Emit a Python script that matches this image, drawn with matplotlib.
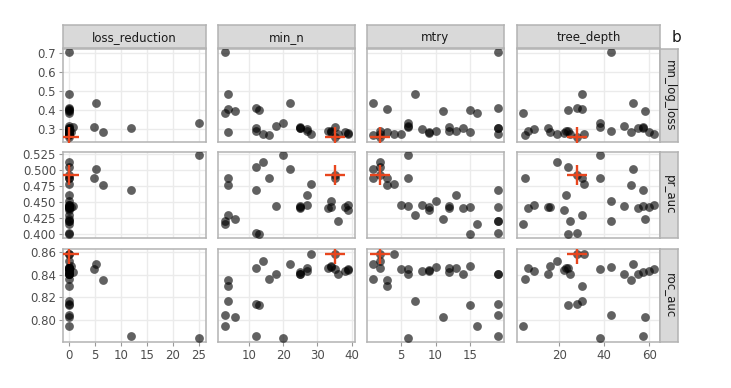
import matplotlib
matplotlib.use("Agg")
import matplotlib.pyplot as plt

# ---------------------------------------------------------------------------
# Tuning results: one entry per candidate model
# ---------------------------------------------------------------------------
loss_reduction = [0, 0, 0, 0, 0, 0.3, 0, 0, 0, 0, 0, 0, 0, 0, 0,
                  0, 0, 25, 4.87, 0, 0, 0, 6.54, 5.13, 0, 0.7, 11.9, 0, 0, 0]
min_n = [3, 16, 33, 27, 25, 34, 14, 39, 27, 12, 13, 36, 12, 35, 4,
         4, 28, 20, 35, 3, 34, 18, 4, 22, 25, 25, 12, 6, 38, 39]
mtry = [16, 1, 12, 8, 19, 15, 2, 9, 13, 2, 15, 19, 19, 2, 7,
        3, 4, 6, 6, 19, 10, 6, 3, 1, 14, 12, 19, 11, 9, 5]
tree_depth = [4, 5, 6, 9, 15, 16, 19, 22, 23, 24, 24, 25, 28, 28, 30,
              30, 31, 38, 38, 43, 43, 49, 52, 53, 55, 57, 57, 58, 60, 62]

mn_log_loss = [0.382, 0.268, 0.290, 0.300, 0.303, 0.283, 0.274, 0.280, 0.290, 0.290,
               0.400, 0.276, 0.409, 0.258, 0.483, 0.403, 0.274, 0.331, 0.313, 0.702,
               0.290, 0.318, 0.285, 0.435, 0.306, 0.310, 0.305, 0.396, 0.285, 0.274]
pr_auc = [0.415, 0.488, 0.441, 0.445, 0.442, 0.442, 0.513, 0.438, 0.461, 0.505,
          0.400, 0.421, 0.402, 0.492, 0.429, 0.487, 0.478, 0.523, 0.488, 0.420,
          0.451, 0.443, 0.477, 0.502, 0.440, 0.444, 0.469, 0.424, 0.442, 0.445]
roc_auc = [0.794, 0.836, 0.846, 0.8435, 0.841, 0.848, 0.8525, 0.8447, 0.8456, 0.8456,
           0.8126, 0.8408, 0.8135, 0.8588, 0.8168, 0.830, 0.8588, 0.7836, 0.8453, 0.804,
           0.8466, 0.8408, 0.835, 0.8497, 0.8408, 0.8425, 0.7858, 0.802, 0.8435, 0.845]

best_index = 13  # model flagged as best (red cross)

params = ["loss_reduction", "min_n", "mtry", "tree_depth"]
metrics = ["mn_log_loss", "pr_auc", "roc_auc"]
param_values = {"loss_reduction": loss_reduction, "min_n": min_n,
                "mtry": mtry, "tree_depth": tree_depth}
metric_values = {"mn_log_loss": mn_log_loss, "pr_auc": pr_auc, "roc_auc": roc_auc}

x_ticks = {"loss_reduction": [0, 5, 10, 15, 20, 25],
           "min_n": [10, 20, 30, 40],
           "mtry": [5, 10, 15],
           "tree_depth": [20, 40, 60]}
x_lims = {"loss_reduction": (-1.15, 26.35), "min_n": (1.02, 40.97),
          "mtry": (0.07, 19.9), "tree_depth": (1.33, 64.76)}
y_ticks = {"mn_log_loss": [0.3, 0.4, 0.5, 0.6, 0.7],
           "pr_auc": [0.400, 0.425, 0.450, 0.475, 0.500, 0.525],
           "roc_auc": [0.80, 0.82, 0.84, 0.86]}
y_fmt = {"mn_log_loss": "{:.1f}", "pr_auc": "{:.3f}", "roc_auc": "{:.2f}"}
y_lims = {"mn_log_loss": (0.232, 0.719), "pr_auc": (0.3937, 0.528),
          "roc_auc": (0.780, 0.863)}

# ---------------------------------------------------------------------------
# Layout (pixel boxes of the reference, 731 x 388)
# ---------------------------------------------------------------------------
W, H = 731, 388
col_px = [(63, 206), (218, 355), (367, 504), (517, 660)]
row_px = [(49, 142), (152, 238), (249, 342)]
strip_top = (25, 48)
strip_right = (660, 678)

border = "#b3b3b3"
strip_fill = "#d9d9d9"
grid_col = "#ebebeb"
text_col = "#4d4d4d"
cross_col = "#e8461e"
fs = 8.5

fig = plt.figure(figsize=(W / 100, H / 100), dpi=100)


def box(x0, x1, y0, y1):
    return [x0 / W, 1 - y1 / H, (x1 - x0) / W, (y1 - y0) / H]


for r, metric in enumerate(metrics):
    y0, y1 = row_px[r]
    for c, param in enumerate(params):
        x0, x1 = col_px[c]
        ax = fig.add_axes(box(x0, x1, y0, y1))
        ax.set_facecolor("white")
        ax.scatter(param_values[param], metric_values[metric], s=40,
                   color="black", alpha=0.62, linewidths=0, zorder=3)
        ax.plot(param_values[param][best_index], metric_values[metric][best_index],
                marker="+", markersize=15, markeredgewidth=1.7,
                color=cross_col, zorder=4)
        ax.set_xlim(*x_lims[param])
        ax.set_ylim(*y_lims[metric])
        ax.set_xticks(x_ticks[param])
        ax.set_yticks(y_ticks[metric])
        ax.grid(True, color=grid_col, linewidth=1.0, zorder=0)
        ax.set_axisbelow(True)
        for sp in ax.spines.values():
            sp.set_color(border)
            sp.set_linewidth(1.1)
        ax.tick_params(length=3, width=0.8, color="#999999",
                       labelcolor=text_col, labelsize=fs, pad=2)
        if c == 0:
            ax.set_yticklabels([y_fmt[metric].format(v) for v in y_ticks[metric]])
        else:
            ax.tick_params(axis="y", length=0, labelleft=False)
        if r == len(metrics) - 1:
            ax.set_xticklabels([str(v) for v in x_ticks[param]])
        else:
            ax.tick_params(axis="x", length=0, labelbottom=False)

        # column strip
        if r == 0:
            sax = fig.add_axes(box(x0, x1, strip_top[0], strip_top[1]))
            sax.set_facecolor(strip_fill)
            sax.set_xticks([])
            sax.set_yticks([])
            for sp in sax.spines.values():
                sp.set_color(border)
                sp.set_linewidth(1.1)
            sax.text(0.5, 0.45, param, ha="center", va="center",
                     fontsize=fs, color="#1a1a1a", transform=sax.transAxes)

    # row strip
    rax = fig.add_axes(box(strip_right[0], strip_right[1], y0, y1))
    rax.set_facecolor(strip_fill)
    rax.set_xticks([])
    rax.set_yticks([])
    for sp in rax.spines.values():
        sp.set_color(border)
        sp.set_linewidth(1.1)
    rax.text(0.5, 0.5, metric, ha="center", va="center", rotation=270,
             fontsize=fs, color="#1a1a1a", transform=rax.transAxes)

# clipped legend title
fig.text(672 / W, 1 - 38 / H, "b", fontsize=11, color="#1a1a1a",
         ha="left", va="center")

fig.savefig("out.png", dpi=100)
